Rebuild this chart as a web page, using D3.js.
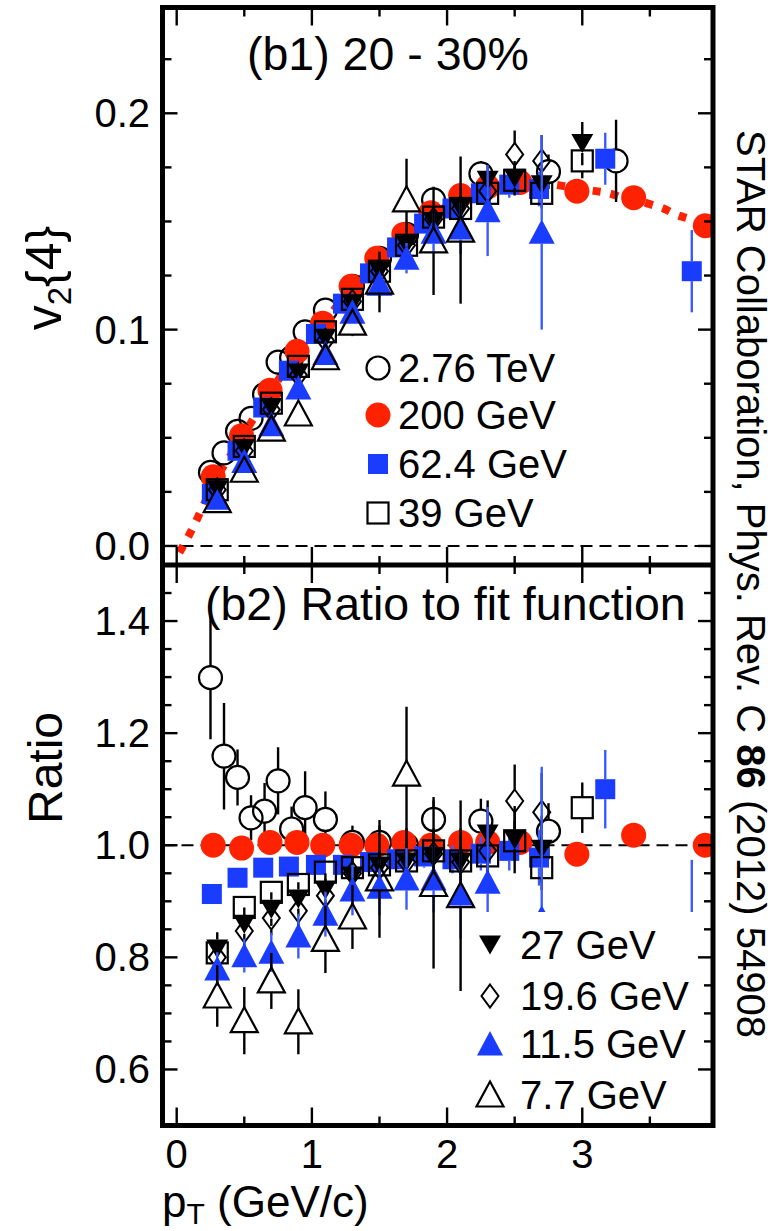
<!DOCTYPE html>
<html><head><meta charset="utf-8">
<script src="https://cdn.jsdelivr.net/npm/d3@7"></script>
<style>
body{margin:0;background:#fff}
svg{display:block}
text{font-family:"Liberation Sans",Arial,Helvetica,sans-serif;fill:#000}
</style>
</head><body>
<svg id="c" width="780" height="1231"></svg>
<script>
// ---------- data: v2{4} (upper panel) and ratio to fit (lower panel), 20-30% ----------
// 2.76 TeV
const p276  = [0.25,0.35,0.45,0.55,0.65,0.75,0.85,0.95,1.1,1.3,1.5,1.7,1.9,2.25,2.75,3.25];
const v276  = [0.034,0.043,0.053,0.059,0.070,0.085,0.087,0.099,0.109,0.120,0.133,0.144,0.160,0.172,0.173,0.178];
const ev276 = [0.003,0.003,0.002,0.002,0.002,0.003,0.002,0.003,0.003,0.003,0.003,0.004,0.005,0.006,0.008,0.019];
const pr276 = [0.25,0.35,0.45,0.55,0.65,0.75,0.85,0.95,1.1,1.3,1.5,1.7,1.9,2.25,2.75];
const r276  = [1.299,1.159,1.121,1.049,1.061,1.115,1.029,1.067,1.046,1.005,1.005,1.0,1.046,1.043,1.025];
const er276 = [0.11,0.095,0.05,0.04,0.05,0.06,0.04,0.065,0.05,0.03,0.03,0.03,0.04,0.04,0.05];
// 200 GeV
const p200  = [0.27,0.48,0.69,0.89,1.08,1.29,1.48,1.68,1.88,2.1,2.3,2.54,2.96,3.38,3.91];
const v200  = [0.032,0.051,0.072,0.090,0.103,0.120,0.133,0.144,0.154,0.162,0.166,0.168,0.164,0.161,0.148];
const r200  = [1.0,0.995,1.005,1.005,1.0,1.0,1.0,1.005,1.0,1.005,1.005,1.005,0.984,1.018,1.0];
// fit function to the 200 GeV data
const fitP  = [0.02,0.1,0.2,0.3,0.4,0.5,0.6,0.7,0.8,0.9,1.0,1.1,1.2,1.3,1.4,1.5,1.6,1.7,1.8,1.9,2.0,2.1,2.2,2.3,2.4,2.5,2.6,2.7,2.8,2.9,3.0,3.1,3.2,3.3,3.4,3.5,3.6,3.7,3.8,3.9];
const fitV  = [-0.003,0.006,0.019,0.032,0.042,0.052,0.062,0.072,0.081,0.089,0.097,0.104,0.112,0.119,0.126,0.132,0.138,0.143,0.148,0.153,0.157,0.161,0.164,0.166,0.167,0.168,0.168,0.168,0.167,0.166,0.165,0.164,0.163,0.161,0.160,0.158,0.156,0.153,0.151,0.148];
// 62.4 GeV
const p62   = [0.26,0.45,0.64,0.83,1.03,1.23,1.43,1.63,1.83,2.04,2.25,2.46,2.68,3.17,3.81];
const v62   = [0.024,0.044,0.064,0.081,0.098,0.112,0.126,0.138,0.149,0.156,0.163,0.167,0.165,0.179,0.127];
const ev62  = [0.002,0.002,0.002,0.002,0.002,0.002,0.003,0.003,0.003,0.004,0.005,0.006,0.008,0.012,0.019];
const r62   = [0.913,0.942,0.96,0.962,0.965,0.965,0.97,0.975,0.98,0.975,0.985,0.99,0.978,1.10,0.847];
const er62  = [0.01,0.01,0.01,0.01,0.01,0.012,0.014,0.016,0.02,0.025,0.03,0.035,0.05,0.07,0.127];
// 39 GeV
const p39   = [0.3,0.5,0.7,0.9,1.1,1.3,1.5,1.7,1.9,2.1,2.3,2.5,2.7,3.0];
const v39   = [0.026,0.046,0.066,0.083,0.099,0.114,0.127,0.139,0.152,0.156,0.163,0.169,0.163,0.178];
const ev39  = [0.002,0.002,0.002,0.002,0.002,0.002,0.003,0.003,0.004,0.004,0.005,0.006,0.007,0.008];
const r39   = [0.808,0.889,0.916,0.93,0.952,0.96,0.965,0.972,0.99,0.972,0.981,1.008,0.96,1.067];
const er39  = [0.02,0.015,0.015,0.015,0.015,0.015,0.02,0.02,0.025,0.025,0.03,0.035,0.04,0.045];
// 27 GeV
const p27   = [0.3,0.5,0.7,0.9,1.1,1.3,1.5,1.7,1.9,2.1,2.3,2.5,2.7,3.0];
const v27   = [0.026,0.045,0.064,0.080,0.096,0.112,0.127,0.139,0.150,0.156,0.169,0.170,0.167,0.186];
const ev27  = [0.002,0.002,0.002,0.002,0.003,0.003,0.003,0.004,0.005,0.006,0.007,0.008,0.009,0.010];
const pr27  = [0.3,0.5,0.7,0.9,1.1,1.3,1.5,1.7,1.9,2.1,2.3,2.5,2.7];
const r27   = [0.815,0.859,0.886,0.904,0.92,0.945,0.963,0.97,0.98,0.97,1.02,1.01,0.993];
const er27  = [0.03,0.03,0.03,0.03,0.03,0.03,0.03,0.04,0.05,0.06,0.06,0.06,0.06];
// 19.6 GeV
const p196  = [0.3,0.5,0.7,0.9,1.1,1.3,1.5,1.7,1.9,2.1,2.3,2.5,2.7];
const v196  = [0.026,0.044,0.063,0.079,0.095,0.113,0.127,0.139,0.151,0.156,0.164,0.181,0.178];
const ev196 = [0.002,0.002,0.003,0.003,0.003,0.003,0.004,0.004,0.005,0.006,0.008,0.011,0.012];
const r196  = [0.80,0.847,0.87,0.883,0.91,0.95,0.96,0.97,0.985,0.97,0.99,1.079,1.059];
const er196 = [0.03,0.03,0.03,0.03,0.03,0.03,0.03,0.035,0.04,0.05,0.05,0.065,0.07];
// 11.5 GeV
const p115  = [0.3,0.5,0.7,0.9,1.1,1.3,1.5,1.7,1.9,2.1,2.3,2.7];
const v115  = [0.022,0.039,0.056,0.073,0.089,0.108,0.121,0.133,0.145,0.147,0.155,0.145];
const ev115 = [0.003,0.003,0.003,0.004,0.004,0.005,0.006,0.007,0.009,0.012,0.021,0.045];
const r115  = [0.779,0.803,0.809,0.838,0.877,0.92,0.925,0.94,0.94,0.913,0.934,0.87];
const er115 = [0.03,0.03,0.035,0.04,0.04,0.045,0.05,0.055,0.06,0.08,0.134,0.27];
// 7.7 GeV
const p77   = [0.3,0.5,0.7,0.9,1.1,1.3,1.5,1.7,1.9,2.1];
const v77   = [0.021,0.035,0.054,0.061,0.087,0.103,0.122,0.160,0.141,0.146];
const ev77  = [0.004,0.004,0.004,0.005,0.005,0.006,0.014,0.019,0.025,0.034];
const r77   = [0.731,0.687,0.758,0.685,0.832,0.872,0.94,1.127,0.93,0.91];
const er77  = [0.055,0.06,0.05,0.058,0.06,0.057,0.105,0.12,0.15,0.17];

// axis ticks
const xMajor = [0,1,2,3];
const xMinor = [0.5,1.5,2.5,3.5];
const yTopLabels = [0.0,0.1,0.2];
const yBotLabels = [0.6,0.8,1.0,1.2,1.4];

// ---------- layout ----------
const RED = "#ff2200", BLUE = "#1a3cff", BLUE_ERR = "#3a5cff";
const L = 162.5, R = 713, T = 7.5, M = 565, B = 1125.5;
const svg = d3.select("#c");
const x = d3.scaleLinear().domain([-0.105, 3.967]).range([L, R]);
const yTop = d3.scaleLinear().domain([-0.0088, 0.2489]).range([M, T]);
const yBot = d3.scaleLinear().domain([0.5, 1.5]).range([B, M]);

const defs = svg.append("defs");
defs.append("clipPath").attr("id", "clipTop").append("rect")
  .attr("x", L).attr("y", T).attr("width", R - L).attr("height", M - T);
defs.append("clipPath").attr("id", "clipBot").append("rect")
  .attr("x", L).attr("y", M).attr("width", R - L).attr("height", B - M);

// marker shapes (half height used to leave a gap in error bars)
const shapes = {
  openCircle:  {half: 11.5, draw: (g) => g.append("circle").attr("r", 11.5).attr("fill", "none").attr("stroke", "#000").attr("stroke-width", 2.2)},
  redCircle:   {half: 12,   draw: (g) => g.append("circle").attr("r", 12.5).attr("fill", RED)},
  blueSquare:  {half: 10,   draw: (g) => g.append("rect").attr("x", -10).attr("y", -10).attr("width", 20).attr("height", 20).attr("fill", BLUE)},
  openSquare:  {half: 10.5, draw: (g) => g.append("rect").attr("x", -10.5).attr("y", -10.5).attr("width", 21).attr("height", 21).attr("fill", "none").attr("stroke", "#000").attr("stroke-width", 2.2)},
  downTri:     {half: 9.5,  draw: (g) => g.append("path").attr("d", "M-11,-9.5L11,-9.5L0,9.5Z").attr("fill", "#000")},
  openDiamond: {half: 11.5, draw: (g) => g.append("path").attr("d", "M0,-11.5L8.5,0L0,11.5L-8.5,0Z").attr("fill", "none").attr("stroke", "#000").attr("stroke-width", 2)},
  blueTri:     {half: 11.5, draw: (g) => g.append("path").attr("d", "M0,-13L13,11.5L-13,11.5Z").attr("fill", BLUE)},
  openTri:     {half: 12,   draw: (g) => g.append("path").attr("d", "M0,-13.5L13.5,11.5L-13.5,11.5Z").attr("fill", "none").attr("stroke", "#000").attr("stroke-width", 2.2).attr("stroke-linejoin", "miter")}
};

function drawSeries(layer, yS, ps, vs, es, shape, errColor) {
  const sh = shapes[shape];
  ps.forEach((p, i) => {
    const cx = x(p), cy = yS(vs[i]);
    if (es && es[i] != null) {
      const up = yS(vs[i] + es[i]), dn = yS(vs[i] - es[i]);
      if (cy - up > sh.half) layer.append("line").attr("x1", cx).attr("x2", cx).attr("y1", up).attr("y2", cy - sh.half)
        .attr("stroke", errColor).attr("stroke-width", 2.4);
      if (dn - cy > sh.half) layer.append("line").attr("x1", cx).attr("x2", cx).attr("y1", cy + sh.half).attr("y2", dn)
        .attr("stroke", errColor).attr("stroke-width", 2.4);
    }
    const g = layer.append("g").attr("transform", `translate(${cx},${cy})`);
    sh.draw(g);
  });
}

// ---------- upper panel ----------
const upper = svg.append("g").attr("clip-path", "url(#clipTop)");
upper.append("line").attr("x1", L).attr("x2", R).attr("y1", yTop(0)).attr("y2", yTop(0))
  .attr("stroke", "#000").attr("stroke-width", 2).attr("stroke-dasharray", "12,7");
upper.append("path").datum(fitP.map((p, i) => [p, fitV[i]]))
  .attr("d", d3.line().x(d => x(d[0])).y(d => yTop(d[1])).curve(d3.curveMonotoneX))
  .attr("fill", "none").attr("stroke", RED).attr("stroke-width", 8).attr("stroke-dasharray", "8,10");
drawSeries(upper, yTop, p276, v276, ev276, "openCircle", "#000");
drawSeries(upper, yTop, p200, v200, null, "redCircle", RED);
drawSeries(upper, yTop, p62, v62, ev62, "blueSquare", BLUE_ERR);
drawSeries(upper, yTop, p39, v39, ev39, "openSquare", "#000");
drawSeries(upper, yTop, p27, v27, ev27, "downTri", "#000");
drawSeries(upper, yTop, p196, v196, ev196, "openDiamond", "#000");
drawSeries(upper, yTop, p115, v115, ev115, "blueTri", BLUE_ERR);
drawSeries(upper, yTop, p77, v77, ev77, "openTri", "#000");

// ---------- lower panel ----------
const lower = svg.append("g").attr("clip-path", "url(#clipBot)");
lower.append("line").attr("x1", L).attr("x2", R).attr("y1", yBot(1)).attr("y2", yBot(1))
  .attr("stroke", "#000").attr("stroke-width", 2).attr("stroke-dasharray", "12,7");
drawSeries(lower, yBot, pr276, r276, er276, "openCircle", "#000");
drawSeries(lower, yBot, p200, r200, null, "redCircle", RED);
drawSeries(lower, yBot, p62, r62, er62, "blueSquare", BLUE_ERR);
drawSeries(lower, yBot, p39, r39, er39, "openSquare", "#000");
drawSeries(lower, yBot, pr27, r27, er27, "downTri", "#000");
drawSeries(lower, yBot, p196, r196, er196, "openDiamond", "#000");
drawSeries(lower, yBot, p115, r115, er115, "blueTri", BLUE_ERR);
drawSeries(lower, yBot, p77, r77, er77, "openTri", "#000");

// ---------- legends ----------
const legTop = [["openCircle","2.76 TeV"],["redCircle","200 GeV"],["blueSquare","62.4 GeV"],["openSquare","39 GeV"]];
const legBot = [["downTri","27 GeV"],["openDiamond","19.6 GeV"],["blueTri","11.5 GeV"],["openTri","7.7 GeV"]];
const legTopY = [368, 415, 464, 513];
const legBotY = [945, 996, 1044, 1095];
legTop.forEach(([s, t], i) => {
  const g = svg.append("g").attr("transform", `translate(378,${legTopY[i]})`);
  shapes[s].draw(g);
  svg.append("text").attr("x", 398).attr("y", legTopY[i] + 14).attr("font-size", 40).text(t);
});
svg.append("rect").attr("x", 474).attr("y", 912).attr("width", R - 2.5 - 474).attr("height", B - 2.5 - 912).attr("fill", "#fff");
legBot.forEach(([s, t], i) => {
  const g = svg.append("g").attr("transform", `translate(490,${legBotY[i]})`);
  shapes[s].draw(g);
  svg.append("text").attr("x", 520).attr("y", legBotY[i] + 14).attr("font-size", 40).text(t);
});

// ---------- frames and ticks ----------
const axes = svg.append("g").attr("stroke", "#000");
function hTicks(yLine, dir) {
  xMajor.forEach(v => axes.append("line").attr("x1", x(v)).attr("x2", x(v)).attr("y1", yLine).attr("y2", yLine + dir * 18).attr("stroke-width", 2.4));
  xMinor.forEach(v => axes.append("line").attr("x1", x(v)).attr("x2", x(v)).attr("y1", yLine).attr("y2", yLine + dir * 9).attr("stroke-width", 2.4));
}
hTicks(T, 1); hTicks(M, -1); hTicks(M, 1); hTicks(B, -1);
function vTicks(yS, lo, hi, step, majorEvery) {
  const n = Math.round((hi - lo) / step);
  for (let k = 0; k <= n; k++) {
    const v = lo + k * step;
    const major = k % majorEvery === 0;
    const len = major ? 15 : 9;
    const yy = yS(v);
    axes.append("line").attr("x1", L).attr("x2", L + len).attr("y1", yy).attr("y2", yy).attr("stroke-width", 2.4);
    axes.append("line").attr("x1", R).attr("x2", R - len).attr("y1", yy).attr("y2", yy).attr("stroke-width", 2.4);
  }
}
vTicks(yTop, 0, 0.225, 0.025, 4);
vTicks(yBot, 0.6, 1.45, 0.05, 4);
axes.append("rect").attr("x", L).attr("y", T).attr("width", R - L).attr("height", B - T)
  .attr("fill", "none").attr("stroke-width", 5);
axes.append("line").attr("x1", L).attr("x2", R).attr("y1", M).attr("y2", M).attr("stroke-width", 5);

// tick labels
yTopLabels.forEach(v => svg.append("text").attr("x", 150).attr("y", yTop(v) + 14)
  .attr("text-anchor", "end").attr("font-size", 40).text(d3.format(".1f")(v)));
yBotLabels.forEach(v => svg.append("text").attr("x", 150).attr("y", yBot(v) + 14)
  .attr("text-anchor", "end").attr("font-size", 40).text(d3.format(".1f")(v)));
xMajor.forEach(v => svg.append("text").attr("x", x(v)).attr("y", 1168)
  .attr("text-anchor", "middle").attr("font-size", 40).text(v));

// ---------- titles ----------
svg.append("text").attr("x", 247).attr("y", 70).attr("font-size", 46.5).text("(b1) 20 - 30%");
svg.append("text").attr("x", 205).attr("y", 620).attr("font-size", 46.5).text("(b2) Ratio to fit function");

const yl = svg.append("text").attr("transform", "translate(61,278) rotate(-90)")
  .attr("text-anchor", "middle").attr("font-size", 50);
yl.append("tspan").text("v");
yl.append("tspan").attr("font-size", 33).attr("dy", 10).text("2");
yl.append("tspan").attr("dy", -10).text("{4}");

svg.append("text").attr("transform", "translate(62,768) rotate(-90)")
  .attr("text-anchor", "middle").attr("font-size", 48).text("Ratio");

const xl = svg.append("text").attr("x", 162).attr("y", 1217).attr("font-size", 44);
xl.append("tspan").text("p");
xl.append("tspan").attr("font-size", 30).attr("dy", 7).text("T");
xl.append("tspan").attr("dy", -7).text(" (GeV/c)");

const rt = svg.append("text").attr("transform", "translate(737,130) rotate(90)").attr("font-size", 40);
rt.append("tspan").text("STAR Collaboration, Phys. Rev. C ");
rt.append("tspan").attr("font-weight", "bold").text("86");
rt.append("tspan").text(" (2012) 54908");
</script>
</body></html>
